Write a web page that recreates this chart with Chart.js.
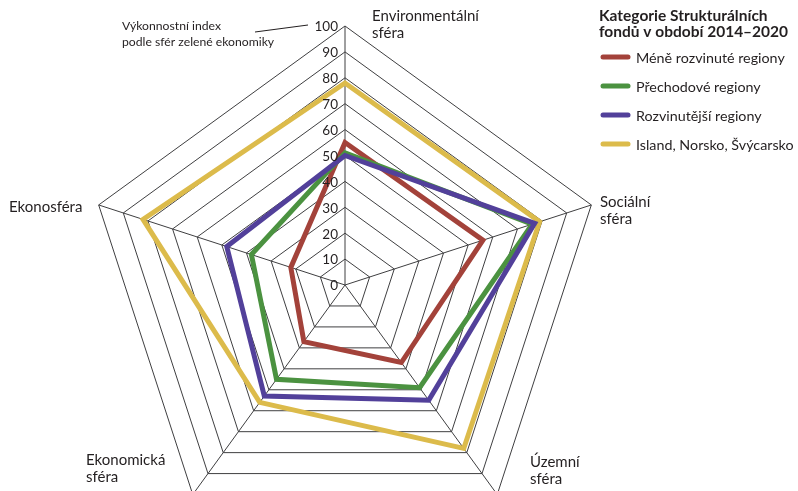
<!DOCTYPE html>
<html lang="cs">
<head>
<meta charset="utf-8">
<title>Výkonnostní index podle sfér zelené ekonomiky</title>
<script src="https://cdn.jsdelivr.net/npm/chart.js@4.4.0/dist/chart.umd.min.js"></script>
<style>
  html, body { margin: 0; padding: 0; background: #fff; overflow: hidden; }
  #wrap { width: 798px; height: 491px; overflow: hidden; position: relative; }
</style>
</head>
<body>
<div id="wrap">
  <canvas id="myChart" width="798" height="560"></canvas>
</div>
<script>
// Datos del gráfico
const sferas = ['Environmentální sféra', 'Sociální sféra', 'Územní sféra', 'Ekonomická sféra', 'Ekonosféra'];
const meneRozvinute = [55, 56, 37, 27, 22];
const prechodove = [51, 76, 49, 45, 38];
const rozvinutejsi = [50, 77, 55, 53, 48];
const islandNorskoSvycarsko = [78, 79, 78, 56, 82];
const ticksEscala = [0, 10, 20, 30, 40, 50, 60, 70, 80, 90, 100];

const nombresSeries = ['Méně rozvinuté regiony', 'Přechodové regiony', 'Rozvinutější regiony', 'Island, Norsko, Švýcarsko'];
const coloresSeries = ['#a3423a', '#4b9240', '#52409a', '#dcbb4b'];
const tituloLeyenda = ['Kategorie Strukturálních', 'fondů v období 2014–2020'];
const tituloEje = ['Výkonnostní index', 'podle sfér zelené ekonomiky'];

const fuente = 'Lato, "Open Sans", sans-serif';
const colorTexto = '#231f20';

// Etiquetas de cada eje, con su posición en el lienzo
const etiquetasEjes = [
  { lineas: ['Environmentální', 'sféra'], x: 372, y: 21, align: 'left' },
  { lineas: ['Sociální', 'sféra'], x: 600, y: 207, align: 'left' },
  { lineas: ['Územní', 'sféra'], x: 530, y: 467, align: 'left' },
  { lineas: ['Ekonomická', 'sféra'], x: 86, y: 465, align: 'left' },
  { lineas: ['Ekonosféra'], x: 9, y: 212, align: 'left' }
];

// Plugin que dibuja textos, números del eje y la leyenda
const textosPlugin = {
  id: 'textos',
  beforeDraw(chart) {
    const ctx = chart.ctx;
    ctx.save();
    ctx.fillStyle = '#fff';
    ctx.fillRect(0, 0, chart.width, chart.height);
    ctx.restore();
  },
  afterDraw(chart) {
    const ctx = chart.ctx;
    const escala = chart.scales.r;
    ctx.save();
    ctx.fillStyle = colorTexto;

    // números del eje vertical
    ctx.font = '13.5px ' + fuente;
    ctx.textAlign = 'right';
    ctx.textBaseline = 'middle';
    ticksEscala.forEach((v) => {
      const d = escala.getDistanceFromCenterForValue(v);
      ctx.fillText(String(v), escala.xCenter - 7, escala.yCenter - d + 1);
    });

    // título del eje con su línea
    ctx.font = '12.2px ' + fuente;
    ctx.textAlign = 'left';
    ctx.textBaseline = 'alphabetic';
    ctx.fillText(tituloEje[0], 122, 30);
    ctx.fillText(tituloEje[1], 122, 46);
    ctx.strokeStyle = colorTexto;
    ctx.lineWidth = 1;
    ctx.beginPath();
    ctx.moveTo(255, 32);
    ctx.lineTo(308, 25);
    ctx.stroke();

    // etiquetas de las sferas
    ctx.font = '15px ' + fuente;
    etiquetasEjes.forEach((e) => {
      ctx.textAlign = e.align;
      e.lineas.forEach((l, i) => ctx.fillText(l, e.x, e.y + i * 17));
    });

    // leyenda
    ctx.textAlign = 'left';
    ctx.font = 'bold 15.5px ' + fuente;
    ctx.fillText(tituloLeyenda[0], 599, 21);
    ctx.fillText(tituloLeyenda[1], 599, 37);
    ctx.font = '14.3px ' + fuente;
    ctx.textBaseline = 'middle';
    nombresSeries.forEach((n, i) => {
      const y = 57 + i * 29;
      ctx.strokeStyle = coloresSeries[i];
      ctx.lineWidth = 5;
      ctx.lineCap = 'round';
      ctx.beginPath();
      ctx.moveTo(603, y);
      ctx.lineTo(628, y);
      ctx.stroke();
      ctx.fillText(n, 636, y + 1);
    });
    ctx.restore();
  }
};

const ctx = document.getElementById('myChart');
const datos = [meneRozvinute, prechodove, rozvinutejsi, islandNorskoSvycarsko];
const ordenDibujo = [2, 1, 0, 3]; // el morado queda arriba

new Chart(ctx, {
  type: 'radar',
  data: {
    labels: sferas,
    datasets: datos.map((d, i) => ({
      label: nombresSeries[i],
      data: d,
      borderColor: coloresSeries[i],
      backgroundColor: 'transparent',
      borderWidth: 5,
      borderJoinStyle: 'miter',
      pointRadius: 0,
      fill: false,
      order: ordenDibujo[i]
    }))
  },
  options: {
    responsive: false,
    animation: false,
    devicePixelRatio: 1,
    layout: { padding: { left: 86, right: 194, top: 26, bottom: 16 } },
    plugins: {
      legend: { display: false },
      tooltip: { enabled: false }
    },
    scales: {
      r: {
        min: 0,
        max: 100,
        beginAtZero: true,
        ticks: { display: false, stepSize: 10 },
        pointLabels: { display: false },
        grid: { color: '#3f3f41', lineWidth: 1 },
        angleLines: { color: '#3f3f41', lineWidth: 1 }
      }
    }
  },
  plugins: [textosPlugin]
});
</script>
</body>
</html>
